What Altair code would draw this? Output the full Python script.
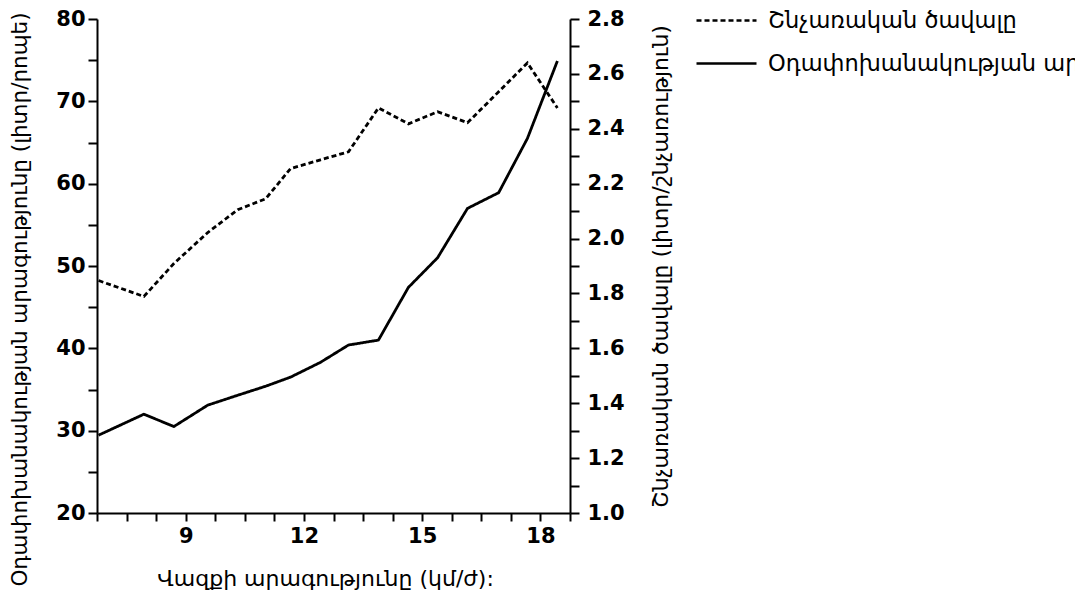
import altair as alt
import pandas as pd

# ---- data ----
speed = [6.79, 7.94, 8.70, 9.56, 10.32, 11.03, 11.66, 12.42, 13.13, 13.89,
         14.65, 15.39, 16.15, 16.94, 17.67, 18.43]
ventilation = [29.45, 32.0, 30.5, 33.1, 34.3, 35.4, 36.5, 38.3, 40.4, 41.0,
               47.4, 51.0, 57.0, 58.9, 65.5, 74.9]
tidal = [1.847, 1.789, 1.909, 2.022, 2.105, 2.145, 2.255, 2.287, 2.316, 2.476,
         2.418, 2.462, 2.422, 2.535, 2.640, 2.476]

x_ticks = [6.75, 7.5, 8.25, 9, 9.75, 10.5, 11.25, 12, 12.75, 13.5, 14.25, 15,
           15.75, 16.5, 17.25, 18, 18.75]
x_labels = [9, 12, 15, 18]
left_ticks = [20, 25, 30, 35, 40, 45, 50, 55, 60, 65, 70, 75, 80]
right_ticks = [1.0, 1.1, 1.2, 1.3, 1.4, 1.5, 1.6, 1.7, 1.8, 1.9, 2.0, 2.1, 2.2,
               2.3, 2.4, 2.5, 2.6, 2.7, 2.8]

label_tidal = "Շնչառական ծավալը"
label_vent = "Օդափոխանակության արագությունը"
x_title = "Վազքի արագությունը (կմ/ժ):"
left_title = "Օդափոխանակության արագությունը (լիտր/րոպե)"
right_title = "Շնչառական ծավալը (լիտր/շնչառություն)"

vent_df = pd.DataFrame({"speed": speed, "vent": ventilation, "series": label_vent})
tidal_df = pd.DataFrame({"speed": speed, "tidal": tidal, "series": label_tidal})

FONT = "DejaVu Sans"
W, H = 473, 494

x_enc = alt.X(
    "speed:Q",
    scale=alt.Scale(domain=[6.75, 18.75], nice=False, zero=False),
    axis=alt.Axis(
        values=x_ticks,
        labelExpr="indexof(%s, datum.value) >= 0 ? format(datum.value, 'd') : ''" % str(x_labels),
        title=x_title,
        titleX=228, titleY=65, titleBaseline="middle", titleAlign="center",
        labelOverlap=False, labelFlush=False, grid=False,
        tickSize=8, tickWidth=2, domainWidth=2, labelPadding=4,
    ),
)

stroke_scale = alt.Scale(domain=[label_tidal, label_vent], range=[[5, 3], [1, 0]])
legend = alt.Legend(
    title=None, orient="none", legendX=598, legendY=-30,
    symbolType="stroke", symbolSize=3600, symbolStrokeWidth=2.5,
    symbolStrokeColor="black",
    labelFont=FONT, labelFontSize=22.5, labelColor="black", labelLimit=1000,
    labelOffset=10, rowPadding=-33,
)

vent_line = alt.Chart(vent_df).mark_line(color="black", strokeWidth=2.8).encode(
    x=x_enc,
    y=alt.Y(
        "vent:Q",
        scale=alt.Scale(domain=[20, 80], nice=False, zero=False),
        axis=alt.Axis(
            orient="left", values=left_ticks,
            labelExpr="datum.value % 10 == 0 ? format(datum.value, 'd') : ''",
            title=left_title, titleX=-77, titleY=280,
            titleBaseline="middle", titleAlign="center", titleAngle=270,
            titleFontSize=21.5,
            grid=False, tickSize=9, tickWidth=2, domainWidth=2,
            labelPadding=3, labelOverlap=False, labelFlush=False,
        ),
    ),
    strokeDash=alt.StrokeDash("series:N", scale=stroke_scale, legend=legend),
)

tidal_line = alt.Chart(tidal_df).mark_line(color="black", strokeWidth=2.8).encode(
    x=x_enc,
    y=alt.Y(
        "tidal:Q",
        scale=alt.Scale(domain=[1.0, 2.8], nice=False, zero=False),
        axis=alt.Axis(
            orient="right", values=right_ticks,
            labelExpr="round(datum.value * 10) % 2 == 0 ? format(datum.value, '.1f') : ''",
            title=right_title, titleX=90, titleY=H / 2,
            titleBaseline="middle", titleAlign="center", titleAngle=270,
            grid=False, tickSize=9, tickWidth=2, domainWidth=2,
            labelPadding=8, labelOverlap=False, labelFlush=False,
        ),
    ),
    strokeDash=alt.StrokeDash("series:N", scale=stroke_scale, legend=legend),
)

chart = (
    alt.layer(vent_line, tidal_line)
    .resolve_scale(y="independent", strokeDash="shared")
    .properties(
        width=W, height=H,
        autosize=alt.AutoSizeParams(type="none"),
        padding={"left": 89, "top": 11, "right": 505, "bottom": 80},
    )
    .configure_view(stroke=None)
    .configure_axis(
        labelFont=FONT, labelFontSize=21, labelFontWeight="bold",
        labelColor="black", titleFont=FONT, titleFontSize=22,
        titleFontWeight="normal", titleColor="black",
        domainColor="black", tickColor="black",
    )
)

chart.save("out.html", embed_options={"renderer": "svg", "actions": False})
